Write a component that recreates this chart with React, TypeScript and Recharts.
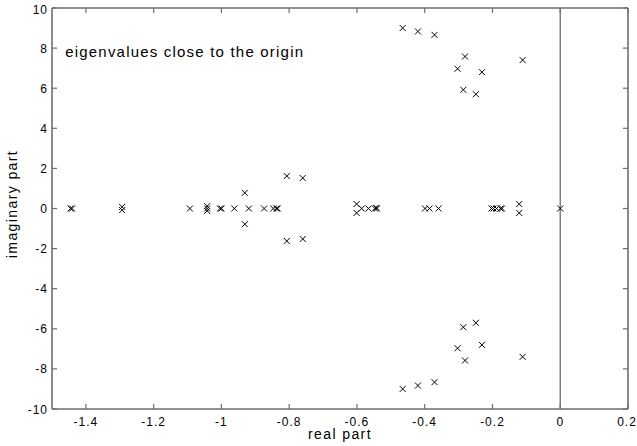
import React from 'react';
import { ScatterChart, Scatter, XAxis, YAxis, ReferenceLine, ReferenceDot } from 'recharts';

// eigenvalues: real parts and imaginary parts
const eigRe = [
  -1.445, -1.441,
  -1.293, -1.293,
  -1.093,
  -1.042, -1.042, -1.042,
  -1.004, -1.0,
  -0.962,
  -0.931, -0.931,
  -0.919,
  -0.874,
  -0.847, -0.838, -0.834,
  -0.807, -0.807,
  -0.76, -0.76,
  -0.601, -0.601,
  -0.586, -0.566,
  -0.547, -0.543, -0.541,
  -0.399, -0.386, -0.359,
  -0.203, -0.197, -0.188, -0.176, -0.172,
  -0.121, -0.121,
  0,
  -0.465, -0.465,
  -0.42, -0.42,
  -0.371, -0.371,
  -0.281, -0.281,
  -0.303, -0.303,
  -0.231, -0.231,
  -0.111, -0.111,
  -0.286, -0.286,
  -0.249, -0.249,
];
const eigIm = [
  0, 0,
  0.08, -0.08,
  0,
  0.12, 0, -0.12,
  0, 0,
  0,
  0.78, -0.78,
  0,
  0,
  0, 0, 0,
  1.62, -1.62,
  1.52, -1.52,
  0.22, -0.22,
  0, 0,
  0, 0.03, 0,
  0, 0, 0,
  0, 0, 0, 0, 0,
  0.22, -0.22,
  0,
  9.0, -9.0,
  8.83, -8.83,
  8.66, -8.66,
  7.58, -7.58,
  6.97, -6.97,
  6.8, -6.8,
  7.4, -7.4,
  5.92, -5.92,
  5.7, -5.7,
];

const xTicks = [-1.4, -1.2, -1, -0.8, -0.6, -0.4, -0.2, 0, 0.2];
const yTicks = [-10, -8, -6, -4, -2, 0, 2, 4, 6, 8, 10];
const xDomain = [-1.5, 0.2];
const yDomain = [-10, 10];
// inward tick length for the top and right frame edges, in data units (~5px)
const topTickLen = 0.25;
const rightTickLen = 0.015;

const annotation = 'eigenvalues close to the origin';
const xLabel = 'real part';
const yLabel = 'imaginary part';

const data = eigRe.map((re, i) => ({ re, im: eigIm[i] }));

const FONT = '"Liberation Sans", Arial, Helvetica, sans-serif';
const INK = '#6e6e6e';

const BottomTick = (props: any) => {
  const { x, y, payload } = props;
  return (
    <text
      x={x}
      y={y + 17}
      textAnchor="middle"
      fontSize={12}
      fontFamily={FONT}
      fill="#000"
      style={{ letterSpacing: '1px' }}
    >
      {String(payload.value)}
    </text>
  );
};

const LeftTick = (props: any) => {
  const { x, y, payload } = props;
  return (
    <text
      x={x - 4}
      y={y + 4.5}
      textAnchor="end"
      fontSize={12}
      fontFamily={FONT}
      fill="#000"
      style={{ letterSpacing: '1px' }}
    >
      {String(payload.value)}
    </text>
  );
};

const XLabel = (props: any) => {
  const vb = props.viewBox || { x: 52, y: 409, width: 576, height: 30 };
  return (
    <text
      x={vb.x + vb.width / 2}
      y={vb.y + 30}
      textAnchor="middle"
      fontSize={14}
      fontFamily={FONT}
      fill="#000"
      style={{ letterSpacing: '1.4px' }}
    >
      {xLabel}
    </text>
  );
};

const YLabel = (props: any) => {
  const vb = props.viewBox || { x: 12, y: 8, width: 40, height: 401 };
  const cx = vb.x + 5;
  const cy = vb.y + vb.height / 2 - 4.5;
  return (
    <text
      x={cx}
      y={cy}
      transform={`rotate(-90, ${cx}, ${cy})`}
      textAnchor="middle"
      fontSize={14}
      fontFamily={FONT}
      fill="#000"
      style={{ letterSpacing: '1.4px' }}
    >
      {yLabel}
    </text>
  );
};

const NoteLabel = (props: any) => {
  const vb = props.viewBox;
  if (!vb) return null;
  return (
    <text
      x={vb.x}
      y={vb.y}
      textAnchor="start"
      fontSize={15}
      fontFamily={FONT}
      fill="#000"
      style={{ letterSpacing: '1.2px' }}
    >
      {annotation}
    </text>
  );
};

const Cross = (props: any) => {
  const { cx, cy } = props;
  if (cx == null || cy == null) return null;
  const s = 3;
  return (
    <path
      d={`M${cx - s},${cy - s}L${cx + s},${cy + s}M${cx - s},${cy + s}L${cx + s},${cy - s}`}
      stroke="#000"
      strokeWidth={1}
      fill="none"
    />
  );
};

export default function App() {
  return (
    <div style={{ position: 'absolute', left: 0, top: 0, background: '#fff' }}>
      <ScatterChart width={637} height={446} margin={{ top: 8, right: 9, bottom: 7, left: 12 }}>
        <XAxis
          xAxisId="b"
          dataKey="re"
          type="number"
          domain={xDomain}
          ticks={xTicks}
          height={30}
          stroke={INK}
          axisLine={{ stroke: INK, strokeWidth: 1.6 }}
          tickLine={{ stroke: INK, strokeWidth: 1.2 }}
          tickSize={-5}
          tickMargin={5}
          tick={<BottomTick />}
          label={<XLabel />}
        />
        <YAxis
          yAxisId="l"
          dataKey="im"
          type="number"
          domain={yDomain}
          ticks={yTicks}
          width={40}
          stroke={INK}
          axisLine={{ stroke: INK, strokeWidth: 1.6 }}
          tickLine={{ stroke: INK, strokeWidth: 1.2 }}
          tickSize={-5}
          tickMargin={5}
          tick={<LeftTick />}
          label={<YLabel />}
        />
        <ReferenceLine xAxisId="b" yAxisId="l" y={yDomain[1]} stroke={INK} strokeWidth={1.6} />
        <ReferenceLine xAxisId="b" yAxisId="l" x={xDomain[1]} stroke={INK} strokeWidth={1.6} />
        {xTicks.map((t) => (
          <ReferenceLine
            key={'tt' + t}
            xAxisId="b"
            yAxisId="l"
            segment={[
              { x: t, y: yDomain[1] },
              { x: t, y: yDomain[1] - topTickLen },
            ]}
            stroke={INK}
            strokeWidth={1.2}
          />
        ))}
        {yTicks.map((t) => (
          <ReferenceLine
            key={'rt' + t}
            xAxisId="b"
            yAxisId="l"
            segment={[
              { x: xDomain[1], y: t },
              { x: xDomain[1] - rightTickLen, y: t },
            ]}
            stroke={INK}
            strokeWidth={1.2}
          />
        ))}
        <ReferenceLine xAxisId="b" yAxisId="l" x={0} stroke="#6e6e6e" strokeWidth={1.3} />
        <ReferenceDot
          xAxisId="b"
          yAxisId="l"
          x={-1.461}
          y={7.55}
          r={0}
          fill="none"
          stroke="none"
          label={<NoteLabel />}
        />
        <Scatter
          xAxisId="b"
          yAxisId="l"
          data={data}
          shape={<Cross />}
          isAnimationActive={false}
        />
      </ScatterChart>
    </div>
  );
}
